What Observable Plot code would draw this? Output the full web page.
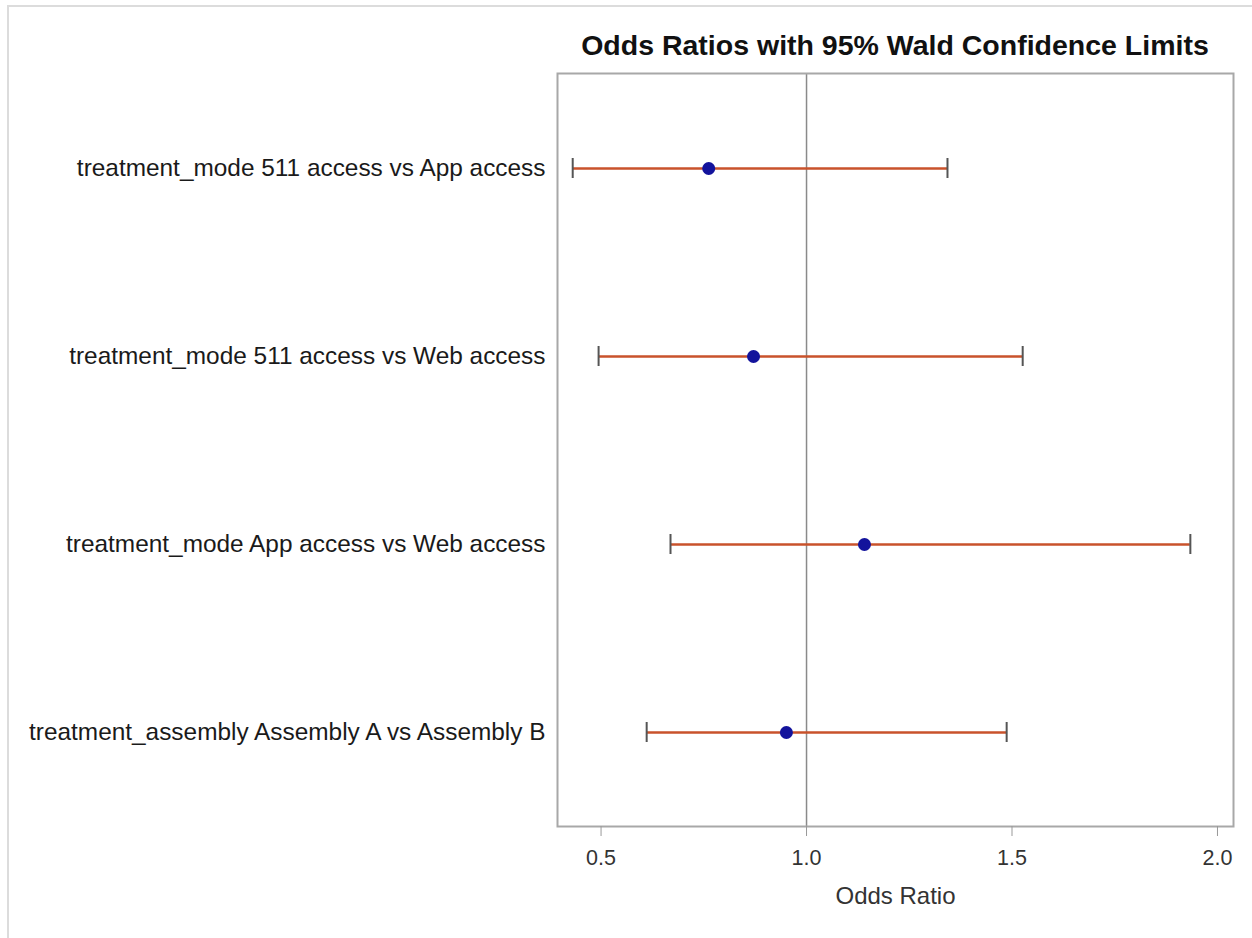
<!DOCTYPE html>
<html>
<head>
<meta charset="utf-8">
<script src="https://cdn.jsdelivr.net/npm/d3@7"></script>
<script src="https://cdn.jsdelivr.net/npm/@observablehq/plot@0.6"></script>
<style>
  html, body { margin: 0; padding: 0; background: #fff; }
  #wrap { position: relative; width: 1252px; height: 938px; overflow: hidden; background: #fff; }
  #border { position: absolute; left: 7px; top: 5px; width: 1245px; height: 933px;
            border-left: 2px solid #dcdcdc; border-top: 2px solid #dcdcdc; box-sizing: border-box; }
  #title { position: absolute; left: 557px; width: 676px; top: 31px; text-align: center; line-height: 1;
           font-family: "Liberation Sans", Arial, sans-serif; font-weight: bold; font-size: 28.5px; color: #111; white-space: nowrap; }
  #chart { position: absolute; left: 0; top: 0; }
</style>
</head>
<body>
<div id="wrap">
  <div id="border"></div>
  <div id="chart"></div>
  <div id="title">Odds Ratios with 95% Wald Confidence Limits</div>
</div>
<script>
const effects = [
  "treatment_mode 511 access vs App access",
  "treatment_mode 511 access vs Web access",
  "treatment_mode App access vs Web access",
  "treatment_assembly Assembly A vs Assembly B"
];
const oddsRatio = [0.762, 0.871, 1.141, 0.951];
const lowerCL  = [0.431, 0.494, 0.669, 0.611];
const upperCL  = [1.343, 1.526, 1.934, 1.487];
const xTicks = [0.5, 1.0, 1.5, 2.0];

const data = effects.map((e, i) => ({effect: e, or: oddsRatio[i], lo: lowerCL[i], hi: upperCL[i]}));

const chart = Plot.plot({
  width: 1252,
  height: 938,
  marginTop: 73,
  marginBottom: 112,
  marginLeft: 557,
  marginRight: 19,
  style: {fontFamily: "'Liberation Sans', Arial, sans-serif", background: "transparent", color: "#333"},
  x: {domain: [0.394, 2.039], ticks: xTicks, tickFormat: d3.format(".1f"), label: null},
  y: {type: "band", domain: effects, padding: 0, label: null},
  marks: [
    Plot.ruleX([1], {stroke: "#8a8a8a", strokeWidth: 1.5}),
    Plot.ruleY(data, {y: "effect", x1: "lo", x2: "hi", stroke: "#c9522b", strokeWidth: 2.5}),
    Plot.tickX(data, {x: "lo", y: "effect", stroke: "#555", strokeWidth: 2, insetTop: 84, insetBottom: 84}),
    Plot.tickX(data, {x: "hi", y: "effect", stroke: "#555", strokeWidth: 2, insetTop: 84, insetBottom: 84}),
    Plot.dot(data, {x: "or", y: "effect", r: 6.5, fill: "#13139c", stroke: "none"}),
    Plot.frame({stroke: "#a8a8a8", strokeWidth: 2}),
    Plot.axisX(xTicks, {tickSize: 10, stroke: "#999", fontSize: 21.5, fill: "#333", tickPadding: 13, tickFormat: d3.format(".1f")}),
    Plot.axisY({tickSize: 0, tickPadding: 12, fontSize: 24.4, fill: "#1a1a1a"}),
    Plot.text(["Odds Ratio"], {frameAnchor: "bottom", dy: 77, fontSize: 24, fill: "#333"})
  ]
});
document.getElementById("chart").appendChild(chart);
</script>
</body>
</html>
